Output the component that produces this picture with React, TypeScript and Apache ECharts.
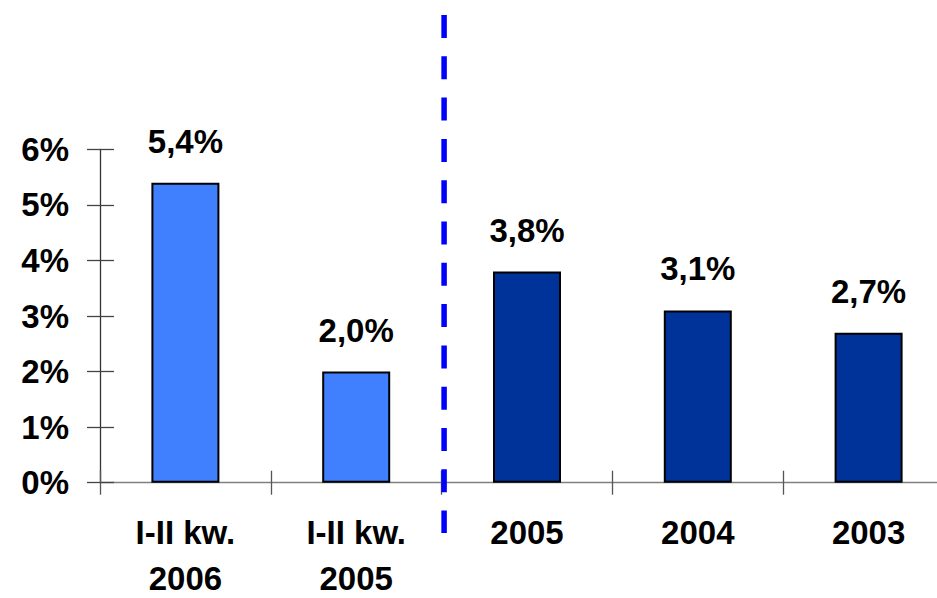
import React, { useEffect, useRef } from "react";
import * as echarts from "echarts";

const categories = ["I-II kw.\n2006", "I-II kw.\n2005", "2005", "2004", "2003"];
const values = [5.4, 2.0, 3.8, 3.1, 2.7];
const barColors = ["#4080FF", "#4080FF", "#003399", "#003399", "#003399"];
const yTicks = { min: 0, max: 6, interval: 1 };

const FONT = "Arial, 'Liberation Sans', sans-serif";
const FONT_SIZE = 33;

const labelFont = {
  color: "#000000",
  fontFamily: FONT,
  fontWeight: "bold" as const,
  fontSize: FONT_SIZE,
};

export default function App() {
  const ref = useRef<HTMLDivElement>(null);

  useEffect(() => {
    if (!ref.current) return;
    const chart = echarts.init(ref.current, null, { renderer: "svg" });

    const grid = {
      left: 100,
      top: 149.3,
      width: 854,
      height: 333.4,
      containLabel: false,
      outerBoundsMode: "none",
    };

    chart.setOption({
      animation: false,
      backgroundColor: "#ffffff",
      grid,
      xAxis: [
        {
          type: "category",
          data: categories,
          axisLine: { show: true, lineStyle: { color: "#808080", width: 1.3 } },
          axisTick: { show: true, length: 12, lineStyle: { color: "#555555", width: 1.3 } },
          axisLabel: {
            margin: 17,
            interval: 0,
            ...labelFont,
            // first line sits in a tall line box, the second in a tight one
            formatter: (v: string) =>
              v
                .split("\n")
                .map((s, i) => (i === 0 ? `{a|${s}}` : `{b|${s}}`))
                .join("\n"),
            rich: {
              a: { ...labelFont, lineHeight: 66 },
              b: { ...labelFont, lineHeight: 26 },
            },
          },
        },
        {
          type: "category",
          data: categories,
          position: "bottom",
          axisLine: { show: false },
          axisTick: { show: true, inside: true, length: 12, lineStyle: { color: "#555555", width: 1.3 } },
          axisLabel: { show: false },
        },
      ],
      yAxis: [
        {
          type: "value",
          ...yTicks,
          axisLine: { show: true, lineStyle: { color: "#333333", width: 1.3 } },
          axisTick: { show: true, length: 13, lineStyle: { color: "#444444", width: 1.3 } },
          splitLine: { show: false },
          axisLabel: {
            margin: 31,
            ...labelFont,
            formatter: "{value}%",
          },
        },
        {
          type: "value",
          ...yTicks,
          position: "left",
          axisLine: { show: false },
          axisTick: { show: true, inside: true, length: 14, lineStyle: { color: "#444444", width: 1.3 } },
          splitLine: { show: false },
          axisLabel: { show: false },
        },
      ],
      series: [
        {
          type: "bar",
          data: values.map((v, i) => ({ value: v, itemStyle: { color: barColors[i] } })),
          barWidth: 68,
          itemStyle: { borderColor: "#000000", borderWidth: 2 },
          label: {
            show: true,
            position: "top",
            distance: 25,
            ...labelFont,
            formatter: (p: any) => p.value.toFixed(1).replace(".", ",") + "%",
          },
        },
      ],
    });

    // Dashed separator between the half-year and full-year groups
    const c1 = chart.convertToPixel({ xAxisIndex: 0 }, 1) as number;
    const c2 = chart.convertToPixel({ xAxisIndex: 0 }, 2) as number;
    const sepX = (c1 + c2) / 2 + 2.5;
    chart.setOption({
      graphic: [
        {
          type: "line",
          shape: { x1: sepX, y1: 15, x2: sepX, y2: 533 },
          style: { stroke: "#0000FF", lineWidth: 5.5, lineDash: [23, 18.3] },
          z: 100,
        },
      ],
    });

    return () => chart.dispose();
  }, []);

  return (
    <div
      ref={ref}
      style={{ position: "fixed", left: 0, top: 0, width: 937, height: 598 }}
    />
  );
}
